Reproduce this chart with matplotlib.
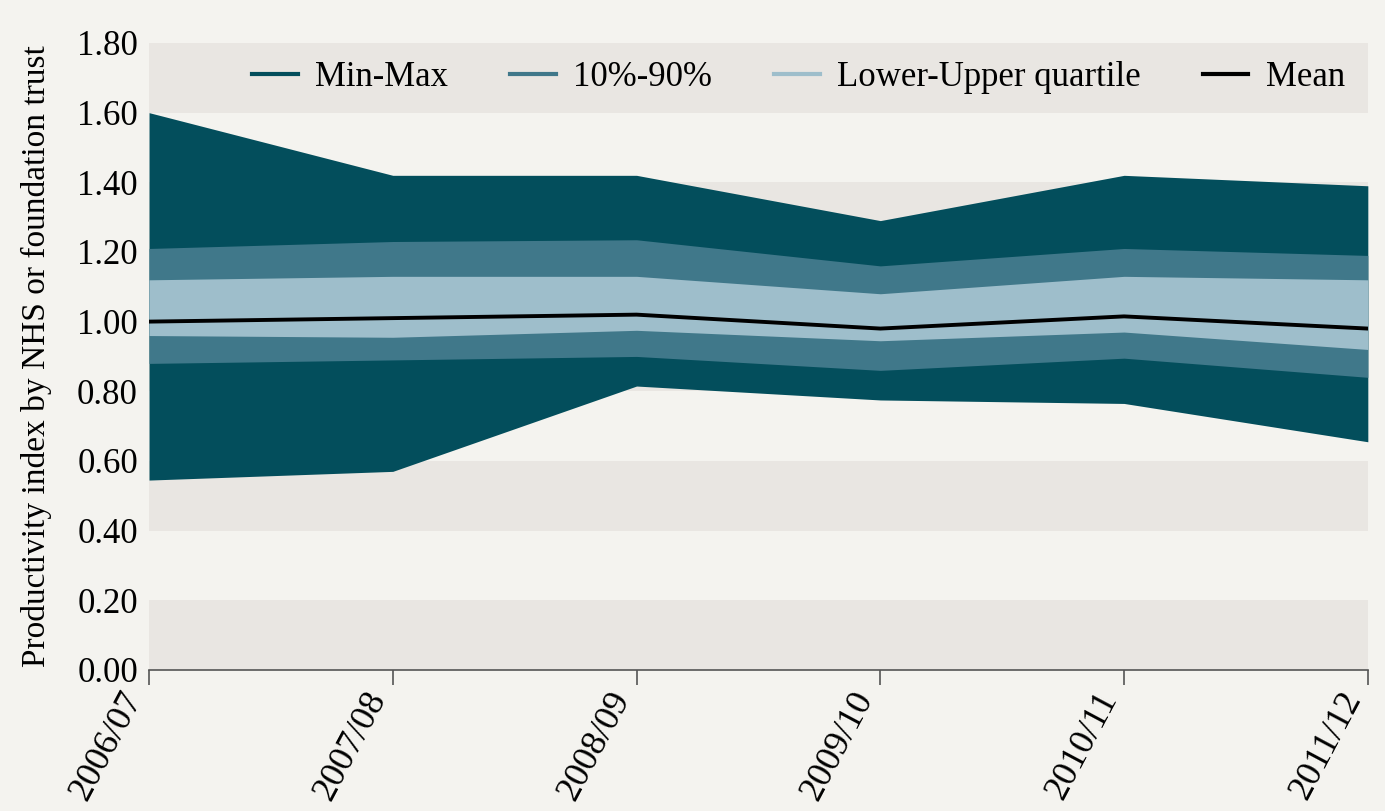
import matplotlib
matplotlib.use('Agg')
import matplotlib.pyplot as plt
import matplotlib.transforms as mtransforms
from matplotlib.lines import Line2D

years = ['2006/07', '2007/08', '2008/09', '2009/10', '2010/11', '2011/12']
max_vals = [1.60, 1.42, 1.42, 1.29, 1.42, 1.39]
p90_vals = [1.21, 1.23, 1.235, 1.16, 1.21, 1.19]
uq_vals = [1.12, 1.13, 1.13, 1.08, 1.13, 1.12]
mean_vals = [1.00, 1.01, 1.02, 0.98, 1.015, 0.98]
lq_vals = [0.96, 0.955, 0.975, 0.945, 0.97, 0.92]
p10_vals = [0.88, 0.89, 0.90, 0.86, 0.895, 0.84]
min_vals = [0.545, 0.57, 0.815, 0.775, 0.765, 0.655]

y_ticks = [0.0, 0.2, 0.4, 0.6, 0.8, 1.0, 1.2, 1.4, 1.6, 1.8]
band_edges = [(0.0, 0.2), (0.4, 0.6), (0.8, 1.0), (1.2, 1.4), (1.6, 1.8)]

legend_labels = ['Min-Max', '10%-90%', 'Lower-Upper quartile', 'Mean']

bg = '#f4f3ef'
band_col = '#e9e6e2'
dark = '#034e5c'
mid = '#40788a'
light = '#9ebecb'

plt.rcParams['font.family'] = ['Liberation Serif', 'DejaVu Serif']

fig = plt.figure(figsize=(13.85, 8.11), dpi=100, facecolor=bg)
ax = fig.add_axes([0.1076, 0.174, 0.88, 0.773])
ax.set_facecolor(bg)

x = list(range(len(years)))

# alternating background bands
for lo, hi in band_edges:
    ax.axhspan(lo, hi, color=band_col, lw=0, zorder=0)

ax.fill_between(x, min_vals, max_vals, color=dark, lw=0, zorder=1)
ax.fill_between(x, p10_vals, p90_vals, color=mid, lw=0, zorder=2)
ax.fill_between(x, lq_vals, uq_vals, color=light, lw=0, zorder=3)
ax.plot(x, mean_vals, color='black', lw=2.8, zorder=4)

ax.set_xlim(0, len(years) - 1)
ax.set_ylim(0, 1.8)
ax.set_yticks(y_ticks)
ax.set_yticklabels([f'{v:.2f}' for v in y_ticks], fontsize=25)
ax.set_xticks(x)
ax.set_xticklabels(years, fontsize=26, rotation=62, ha='right', va='bottom',
                   rotation_mode='anchor')

for s in ['top', 'right', 'left']:
    ax.spines[s].set_visible(False)
ax.spines['bottom'].set_color('#555555')
ax.spines['bottom'].set_linewidth(1.2)
ax.tick_params(axis='y', length=0, pad=8)
ax.tick_params(axis='x', length=11, width=1.2, color='#555555', pad=12)

ax.set_ylabel('Productivity index by NHS or foundation trust', fontsize=24,
              labelpad=18)

handles = [Line2D([], [], color=c, lw=3) for c in [dark, mid, light, 'black']]
legend_tf = mtransforms.blended_transform_factory(ax.transAxes, ax.transData)
ax.legend(handles, legend_labels, ncol=4, frameon=False, fontsize=25,
          loc='center', bbox_to_anchor=(0.533, 1.70),
          bbox_transform=legend_tf,
          handlelength=1.3, handletextpad=0.5, columnspacing=1.8)

fig.savefig('out.png', dpi=100, facecolor=bg)
